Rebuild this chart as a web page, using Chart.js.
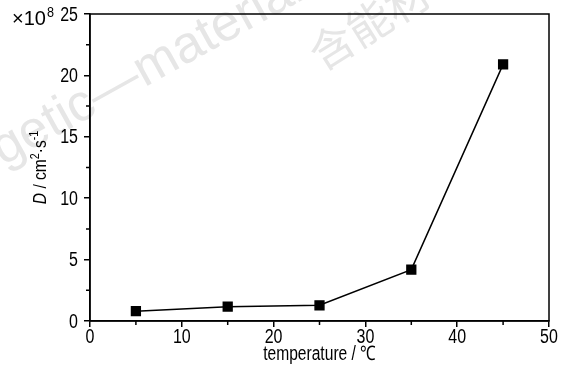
<!DOCTYPE html>
<html>
<head>
<meta charset="utf-8">
<script src="https://cdn.jsdelivr.net/npm/chart.js@4"></script>
<style>
html,body{margin:0;padding:0;background:#fff;}
#wrap{width:566px;height:374px;}
</style>
</head>
<body>
<div id="wrap"><canvas id="c" width="566" height="374"></canvas></div>
<script>
const temperatures = [5, 15, 25, 35, 45];
const diffusion = [0.8, 1.17, 1.28, 4.18, 20.9];
const xTicks = [0, 10, 20, 30, 40, 50];
const yTicks = [0, 5, 10, 15, 20, 25];
const xMinor = [5, 15, 25, 35, 45];
const yMinor = [2.5, 7.5, 12.5, 17.5, 22.5];

const FONT = '"Liberation Sans", Arial, sans-serif';
const SX = 0.8;

function narrowText(ctx, text, x, y, align, font, sx) {
  ctx.save();
  ctx.font = font;
  const w = ctx.measureText(text).width * sx;
  let left = x;
  if (align === 'center') left = x - w / 2;
  else if (align === 'right') left = x - w;
  ctx.translate(left, y);
  ctx.scale(sx, 1);
  ctx.textAlign = 'left';
  ctx.fillText(text, 0, 0);
  ctx.restore();
  return w;
}

const decor = {
  id: 'decor',
  beforeDraw(chart) {
    const ctx = chart.ctx;
    ctx.save();
    ctx.fillStyle = '#e6e6e6';
    ctx.font = '52px "Liberation Sans", Arial, sans-serif';
    ctx.translate(3, 166);
    ctx.rotate(-29 * Math.PI / 180);
    const pre = ctx.measureText('ener').width;
    ctx.fillText('energetic\u2014materials', -pre, 0);
    ctx.restore();
    ctx.save();
    ctx.fillStyle = '#e6e6e6';
    ctx.font = '44px "Noto Sans CJK SC", sans-serif';
    ctx.translate(322, 72);
    ctx.rotate(-32 * Math.PI / 180);
    ctx.fillText('含能材料', 0, 0);
    ctx.restore();
  },
  afterDraw(chart) {
    const ctx = chart.ctx;
    const a = chart.chartArea;
    const xs = chart.scales.x, ys = chart.scales.y;
    ctx.save();
    ctx.strokeStyle = '#000';
    ctx.lineWidth = 1.5;
    ctx.strokeRect(a.left, a.top, a.right - a.left, a.bottom - a.top);
    ctx.beginPath();
    xMinor.forEach(v => { const p = xs.getPixelForValue(v); ctx.moveTo(p, a.bottom); ctx.lineTo(p, a.bottom + 4); });
    yMinor.forEach(v => { const p = ys.getPixelForValue(v); ctx.moveTo(a.left, p); ctx.lineTo(a.left - 4, p); });
    ctx.stroke();
    ctx.fillStyle = '#000';
    ctx.textBaseline = 'middle';
    const tf = '20px ' + FONT;
    xTicks.forEach(v => narrowText(ctx, String(v), xs.getPixelForValue(v), 337, 'center', tf, SX));
    yTicks.forEach(v => narrowText(ctx, String(v), 78, ys.getPixelForValue(v) + 1, 'right', tf, SX));
    // x title
    narrowText(ctx, 'temperature / \u2103', (a.left + a.right) / 2 + 0, 354, 'center', '20px ' + FONT, 0.78);
    // multiplier
    ctx.textBaseline = 'alphabetic';
    const w = narrowText(ctx, '\u00d710', 12, 25, 'left', '20px ' + FONT, 1.0);
    narrowText(ctx, '8', 12 + w + 1, 17, 'left', '14px ' + FONT, 0.9);
    // y title
    ctx.translate(46, (a.top + a.bottom) / 2);
    ctx.rotate(-Math.PI / 2);
    const parts = [
      ['italic 19px ' + FONT, 'D', 0],
      ['19px ' + FONT, ' / cm', 0],
      ['13px ' + FONT, '2', -7],
      ['19px ' + FONT, '\u00b7s', 0],
      ['13px ' + FONT, '-1', -8]
    ];
    const s = 0.82;
    let total = 0;
    parts.forEach(p => { ctx.font = p[0]; total += ctx.measureText(p[1]).width * s; });
    let x = -total / 2;
    parts.forEach(p => { x += narrowText(ctx, p[1], x, p[2], 'left', p[0], s); });
    ctx.restore();
  }
};

new Chart(document.getElementById('c'), {
  type: 'line',
  data: {
    datasets: [{
      data: temperatures.map((t, i) => ({ x: t, y: diffusion[i] })),
      borderColor: '#000',
      backgroundColor: '#000',
      borderWidth: 1.5,
      pointStyle: 'rect',
      pointRadius: 6.2,
      pointHoverRadius: 6.2,
      tension: 0
    }]
  },
  plugins: [decor],
  options: {
    responsive: false,
    animation: false,
    events: [],
    layout: { padding: { top: 14, right: 17, left: 0, bottom: 0 } },
    plugins: { legend: { display: false }, tooltip: { enabled: false } },
    scales: {
      x: {
        type: 'linear', min: 0, max: 50,
        afterBuildTicks: s => { s.ticks = xTicks.map(v => ({ value: v })); },
        afterFit: s => { s.height = 53; },
        ticks: { display: false },
        grid: { drawOnChartArea: false, drawTicks: true, tickLength: 6, color: '#000', lineWidth: 1.5 },
        border: { display: true, color: '#000', width: 1.5 }
      },
      y: {
        type: 'linear', min: 0, max: 25,
        afterBuildTicks: s => { s.ticks = yTicks.map(v => ({ value: v })); },
        afterFit: s => { s.width = 90; },
        ticks: { display: false },
        grid: { drawOnChartArea: false, drawTicks: true, tickLength: 6, color: '#000', lineWidth: 1.5 },
        border: { display: true, color: '#000', width: 1.5 }
      }
    }
  }
});
</script>
</body>
</html>
